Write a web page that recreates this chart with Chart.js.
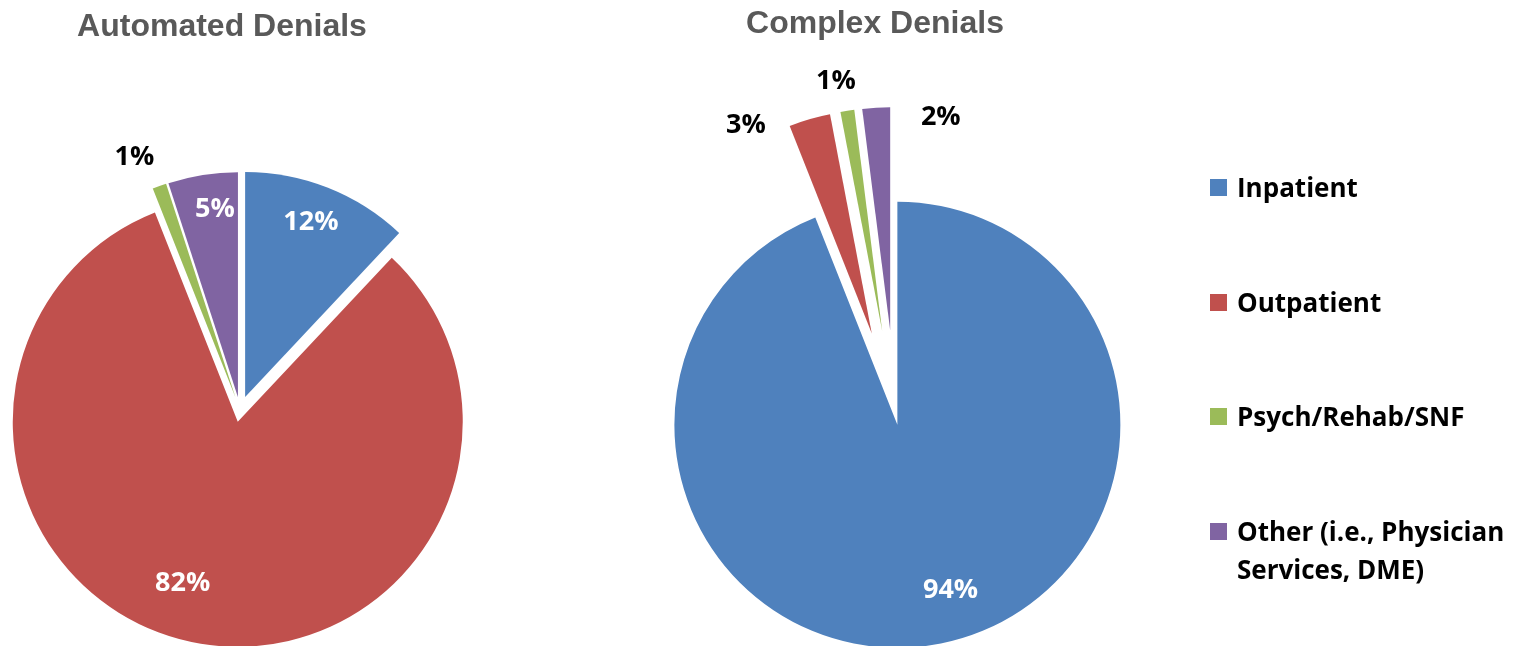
<!DOCTYPE html>
<html>
<head>
<meta charset="utf-8">
<title>Automated vs Complex Denials</title>
<script src="https://cdn.jsdelivr.net/npm/chart.js@4.4.1/dist/chart.umd.min.js"></script>
<style>
  html, body { margin: 0; padding: 0; background: #fff; overflow: hidden; }
  #stage { position: relative; width: 1526px; height: 646px; }
  #stage canvas { position: absolute; left: 0; top: 0; }
  .title {
    position: absolute;
    transform: translate(-50%, -50%);
    font: bold 32px "Liberation Sans", Arial, sans-serif;
    color: #595959;
    white-space: nowrap;
  }
  .legend-item {
    position: absolute;
    left: 1210px;
    display: flex;
    align-items: flex-start;
    font: bold 26px "Open Sans", sans-serif;
    line-height: 38px;
    color: #000;
  }
  .legend-box { flex: none; width: 17px; height: 17px; margin: 11px 10px 0 0; }
  .legend-text { width: 290px; }
</style>
</head>
<body>
<div id="stage">
  <canvas id="automatedChart" width="1526" height="646"></canvas>
  <canvas id="complexChart" width="1526" height="646"></canvas>
  <div class="title" style="left:222px; top:25px;">Automated Denials</div>
  <div class="title" style="left:875px; top:22px;">Complex Denials</div>
  <div id="legend"></div>
</div>

<script>
// data
const categories = ['Inpatient', 'Outpatient', 'Psych/Rehab/SNF', 'Other (i.e., Physician Services, DME)'];
const automatedShare = [12, 82, 1, 5];
const complexShare = [94, 3, 1, 2];

// styles
const sliceColors = ['#4F81BD', '#C0504D', '#9BBB59', '#8064A2'];
const automatedExplode = [14, 12, 13, 13];
const complexExplode = [10, 85, 85, 85];
const automatedLabelRadius = [0.83, 0.76, 1.16, 0.84];
const automatedLabelTurn = [-1, 8, -3, 2];
const automatedLabelColor = ['#fff', '#fff', '#000', '#fff'];
const complexLabelRadius = [0.78, 1.09, 1.14, 0.98];
const complexLabelTurn = [-7, -15, -1.5, 17];
const complexLabelColor = ['#fff', '#000', '#000', '#000'];

// Excel-style exploded slice: offset moves the whole slice outward (px)
class ExplodedArc extends Chart.ArcElement {
  static id = 'explodedArc';
  draw(ctx) {
    const { x, y, startAngle, endAngle, outerRadius, options } = this;
    const mid = (startAngle + endAngle) / 2;
    const shift = options.offset || 0;
    ctx.save();
    ctx.translate(Math.cos(mid) * shift, Math.sin(mid) * shift);
    ctx.beginPath();
    ctx.moveTo(x, y);
    ctx.arc(x, y, outerRadius, startAngle, endAngle);
    ctx.closePath();
    ctx.fillStyle = options.backgroundColor;
    ctx.fill();
    if (options.borderWidth) {
      ctx.lineWidth = options.borderWidth;
      ctx.strokeStyle = options.borderColor;
      ctx.lineJoin = 'round';
      ctx.stroke();
    }
    ctx.restore();
  }
}
class ExplodedPie extends Chart.PieController {
  static id = 'explodedPie';
  static defaults = { dataElementType: 'explodedArc' };
}
Chart.register(ExplodedArc, ExplodedPie);

// percentage labels on / beside each slice
function sliceLabels(radiusFactor, turnDeg, colors) {
  return {
    id: 'sliceLabels',
    afterDatasetsDraw(chart) {
      const ctx = chart.ctx;
      const meta = chart.getDatasetMeta(0);
      const values = chart.data.datasets[0].data;
      ctx.save();
      ctx.font = 'bold 27px "Open Sans", sans-serif';
      ctx.textAlign = 'center';
      ctx.textBaseline = 'middle';
      meta.data.forEach((arc, i) => {
        const mid = (arc.startAngle + arc.endAngle) / 2;
        const shift = arc.options.offset || 0;
        const bx = arc.x + Math.cos(mid) * shift;
        const by = arc.y + Math.sin(mid) * shift;
        const a = mid + turnDeg[i] * Math.PI / 180;
        const d = arc.outerRadius * radiusFactor[i];
        ctx.fillStyle = colors[i];
        ctx.fillText(values[i] + '%', bx + Math.cos(a) * d, by + Math.sin(a) * d);
      });
      ctx.restore();
    }
  };
}

function makePie(canvasId, values, explode, radius, padding, labelPlugin) {
  const ctx = document.getElementById(canvasId).getContext('2d');
  return new Chart(ctx, {
    type: 'explodedPie',
    data: {
      labels: categories,
      datasets: [{
        data: values,
        backgroundColor: sliceColors,
        borderWidth: 0,
        offset: explode,
        radius: radius
      }]
    },
    options: {
      responsive: false,
      animation: false,
      events: [],
      layout: { padding: padding },
      plugins: {
        legend: { display: false },
        tooltip: { enabled: false }
      }
    },
    plugins: [labelPlugin]
  });
}

makePie('automatedChart', automatedShare, automatedExplode, 225,
  { left: 0, right: 1046, top: 174, bottom: 0 },
  sliceLabels(automatedLabelRadius, automatedLabelTurn, automatedLabelColor));

makePie('complexChart', complexShare, complexExplode, 223,
  { left: 671, right: 406, top: 184, bottom: 0 },
  sliceLabels(complexLabelRadius, complexLabelTurn, complexLabelColor));

// legend (shared by both pies)
const legendEl = document.getElementById('legend');
categories.forEach((name, i) => {
  const item = document.createElement('div');
  item.className = 'legend-item';
  item.style.top = (168 + i * 114.5) + 'px';
  const box = document.createElement('span');
  box.className = 'legend-box';
  box.style.background = sliceColors[i];
  const text = document.createElement('span');
  text.className = 'legend-text';
  text.textContent = name;
  item.appendChild(box);
  item.appendChild(text);
  legendEl.appendChild(item);
});
</script>
</body>
</html>
